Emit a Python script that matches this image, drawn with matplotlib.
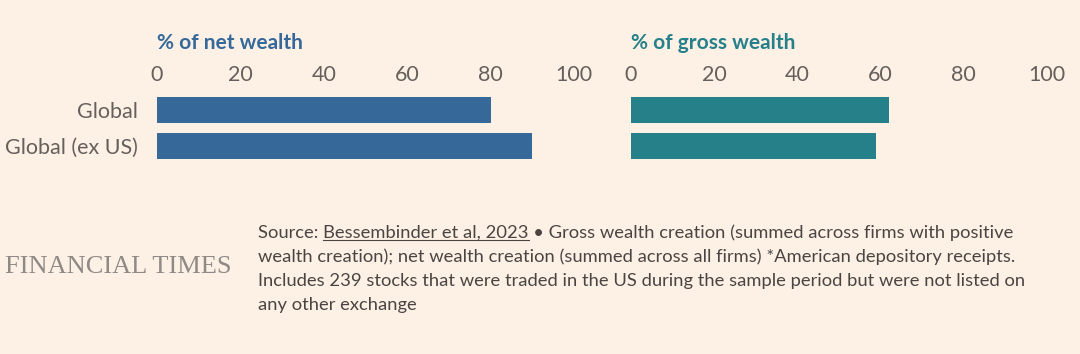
import matplotlib.pyplot as plt

# data ........................................................................
categories = ['Global', 'Global (ex US)']
net_wealth = [80, 90]
gross_wealth = [62, 59]
ticks = [0, 20, 40, 60, 80, 100]

BG = '#fdf1e6'
BLUE = '#37689a'
TEAL = '#26808a'
GREY = '#66605c'
TEXT = '#4a4542'

W, H = 1080, 354


def px_axes(fig, x0, x1, y0, y1):
    # pixel box (top-left origin) -> figure axes
    return fig.add_axes([x0 / W, 1 - y1 / H, (x1 - x0) / W, (y1 - y0) / H])


def bar_panel(ax, values, color, title, show_labels):
    ax.set_facecolor(BG)
    ax.barh(range(len(values)), values, height=0.72, color=color)
    ax.set_xlim(0, 100)
    ax.set_ylim(len(values) - 0.5, -0.5)
    ax.xaxis.tick_top()
    ax.set_xticks(ticks)
    ax.set_xticklabels([str(t) for t in ticks])
    ax.tick_params(axis='x', length=0, pad=5, labelsize=15.5, labelcolor=GREY)
    ax.set_yticks(range(len(values)))
    if show_labels:
        ax.set_yticklabels(categories)
        ax.tick_params(axis='y', length=0, pad=14, labelsize=15.5, labelcolor=GREY)
    else:
        ax.set_yticks([])
    for s in ax.spines.values():
        s.set_visible(False)
    # title sits on its own row above the tick labels
    fig.text(ax.get_position().x0, 1 - 43 / H, title, color=color,
             fontsize=15, fontweight='bold', ha='left', va='center')


fig = plt.figure(figsize=(W / 100, H / 100), dpi=100, facecolor=BG)
plt.rcParams['font.family'] = ['Lato', 'DejaVu Sans']

ax1 = px_axes(fig, 157, 574, 92, 164)
ax2 = px_axes(fig, 631, 1047, 92, 164)
bar_panel(ax1, net_wealth, BLUE, '% of net wealth', True)
bar_panel(ax2, gross_wealth, TEAL, '% of gross wealth', False)

# footer ......................................................................
fig.text(5 / W, 1 - 267 / H, 'FINANCIAL TIMES', family='Liberation Serif',
         fontsize=19, color='#8f8a85', va='center', ha='left')

lines = [
    'Source: Bessembinder et al, 2023 \u2022 Gross wealth creation (summed across firms with positive',
    'wealth creation); net wealth creation (summed across all firms) *American depository receipts.',
    'Includes 239 stocks that were traded in the US during the sample period but were not listed on',
    'any other exchange',
]
src_font = dict(family=['Lato', 'DejaVu Sans'], fontsize=13.2, color=TEXT)
for i, line in enumerate(lines):
    fig.text(258 / W, 1 - (233 + 24 * i) / H, line, va='center', ha='left', **src_font)

# underline the citation
fig.canvas.draw()
r = fig.canvas.get_renderer()
a = fig.text(258 / W, 1 - 233 / H, 'Source: ', va='center', ha='left', **src_font)
b = fig.text(258 / W, 1 - 233 / H, 'Source: Bessembinder et al, 2023', va='center', ha='left', **src_font)
xa = a.get_window_extent(r).x1
xb = b.get_window_extent(r).x1
yb = b.get_window_extent(r).y0
a.remove()
b.remove()
fig.add_artist(plt.Line2D([xa / W, xb / W], [(yb + 1) / H] * 2, color=TEXT, lw=0.8))

fig.savefig('out.png', dpi=100, facecolor=BG)
